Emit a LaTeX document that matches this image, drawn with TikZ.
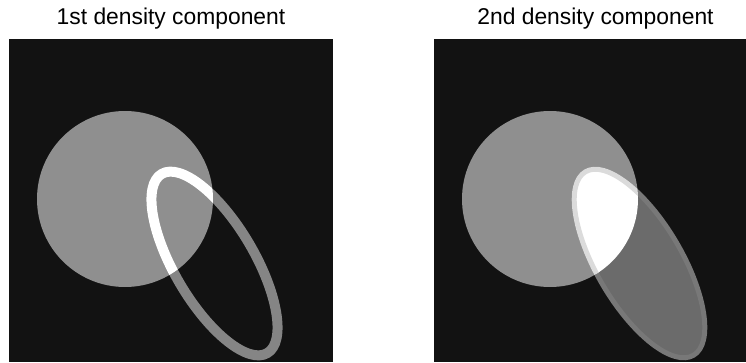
\documentclass[tikz,border=0pt]{standalone}
\usepackage{fontspec}
\setmainfont{Liberation Sans}
\usetikzlibrary{calc}

\definecolor{bgdark}{gray}{0.07}
\definecolor{discgray}{gray}{0.56}
\definecolor{ringgray}{gray}{0.52}
\definecolor{blobgray}{gray}{0.42}
\definecolor{blobrim}{gray}{0.47}
\definecolor{hotrim}{gray}{0.86}

\begin{document}
\begin{tikzpicture}[every node/.style={font=\fontsize{13}{15}\selectfont}]

\useasboundingbox (0, 0) rectangle (14.92, 7.24);

% Panel 1: ring over disc
\begin{scope}
\clip (0.18, 0) rectangle (6.66, 6.46);
\fill[bgdark] (0.18, 0) rectangle (6.66, 6.46);
\fill[discgray] (2.50, 3.26) circle (1.76);
\draw[ringgray, line width=0.2cm, rotate around={30.5:(4.29, 1.97)}] (4.29, 1.97) ellipse [x radius=0.80, y radius=2.08];
\begin{scope}
\clip (2.50, 3.26) circle (1.76);
\draw[white, line width=0.2cm, rotate around={30.5:(4.29, 1.97)}] (4.29, 1.97) ellipse [x radius=0.80, y radius=2.08];
\end{scope}
\end{scope}
\node[anchor=base] (title1) at (3.42, 6.74) {1st density component};

% Panel 2: filled ellipse over disc
\begin{scope}
\clip (8.68, 0) rectangle (14.92, 6.46);
\fill[bgdark] (8.68, 0) rectangle (14.92, 6.46);
\fill[discgray] (11.00, 3.26) circle (1.76);
\fill[blobgray, draw=blobrim, line width=0.1cm, rotate around={30.5:(12.79, 1.97)}] (12.79, 1.97) ellipse [x radius=0.85, y radius=2.13];
\begin{scope}
\clip (11.00, 3.26) circle (1.76);
\fill[white, draw=hotrim, line width=0.1cm, rotate around={30.5:(12.79, 1.97)}] (12.79, 1.97) ellipse [x radius=0.85, y radius=2.13];
\end{scope}
\end{scope}
\node[anchor=base] (title2) at (11.91, 6.74) {2nd density component};

\end{tikzpicture}
\end{document}
